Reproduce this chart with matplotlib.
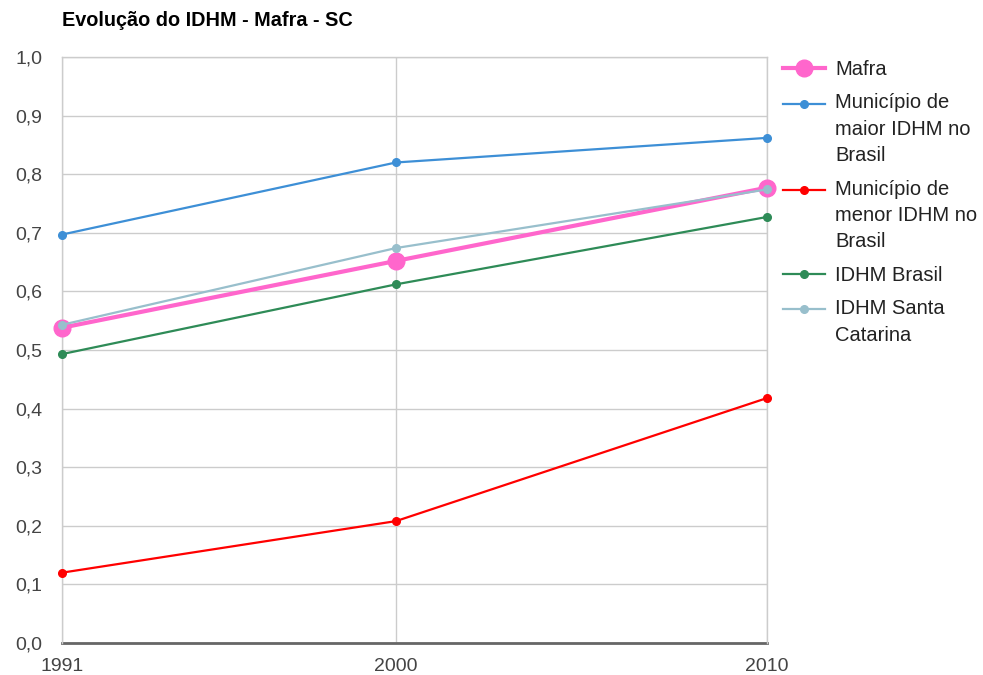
import matplotlib
matplotlib.use("Agg")
import numpy as np
import matplotlib.pyplot as plt
from matplotlib.ticker import FuncFormatter, MultipleLocator
from matplotlib.legend_handler import HandlerLine2D

plt.rcParams['font.family'] = ['Liberation Sans', 'DejaVu Sans']

years = [1991, 2000, 2010]
mafra = [0.538, 0.652, 0.777]
maior = [0.697, 0.820, 0.862]
menor = [0.120, 0.208, 0.418]
brasil = [0.493, 0.612, 0.727]
sc = [0.543, 0.674, 0.774]

labels = ["Mafra", "Município de\nmaior IDHM no\nBrasil", "Município de\nmenor IDHM no\nBrasil",
          "IDHM Brasil", "IDHM Santa\nCatarina"]

LEG_FS = 14.5
LINESP = 1.49
LINE_PT = 18.85  # approx distance between lines of a legend label, in points


class FirstLineHandler(HandlerLine2D):
    def __init__(self, nlines, **kw):
        super().__init__(**kw)
        self.shift = (nlines - 1) / 2 * LINE_PT

    def create_artists(self, legend, orig_handle, xdescent, ydescent, width, height,
                       fontsize, trans):
        arts = super().create_artists(legend, orig_handle, xdescent, ydescent, width,
                                      height, fontsize, trans)
        for a in arts:
            a.set_ydata(np.asarray(a.get_ydata(), dtype=float) + self.shift)
        return arts


fig = plt.figure(figsize=(9.83, 6.75), dpi=100)
ax = fig.add_axes([62/983, 1-643/675, (767-62)/983, (643-57)/675])

kw = dict(clip_on=False)
h1, = ax.plot(years, mafra, color='#ff66cc', lw=3, marker='o', ms=12, zorder=3, **kw)
h2, = ax.plot(years, maior, color='#3d8fd6', lw=1.6, marker='o', ms=5.5, zorder=4, **kw)
h3, = ax.plot(years, menor, color='#ff0000', lw=1.6, marker='o', ms=5.5, zorder=4, **kw)
h4, = ax.plot(years, brasil, color='#2e8b57', lw=1.6, marker='o', ms=5.5, zorder=4, **kw)
h5, = ax.plot(years, sc, color='#98bfcc', lw=1.6, marker='o', ms=5.5, zorder=5, **kw)
handles = [h1, h2, h3, h4, h5]

ax.set_xlim(1991, 2010)
ax.set_ylim(0, 1.0)
ax.set_xticks(years)
ax.yaxis.set_major_locator(MultipleLocator(0.1))
ax.yaxis.set_major_formatter(FuncFormatter(lambda v, p: f"{v:.1f}".replace('.', ',')))
ax.grid(True, color='#cccccc', lw=1)
ax.set_axisbelow(True)
for s in ['top', 'right', 'left']:
    ax.spines[s].set_color('#cccccc')
    ax.spines[s].set_linewidth(1)
ax.spines['bottom'].set_color('#666666')
ax.spines['bottom'].set_linewidth(2)
ax.spines['bottom'].set_zorder(2)
ax.tick_params(length=0, labelsize=14, labelcolor='#444444')
ax.tick_params(axis='x', pad=11)
ax.tick_params(axis='y', pad=14)

fig.text(62/983, 1-21/675, "Evolução do IDHM - Mafra - SC", fontsize=14.3, fontweight='bold',
         color='#000000', va='center', ha='left')

hmap = {h: FirstLineHandler(lab.count('\n') + 1) for h, lab in zip(handles, labels)}
leg = fig.legend(handles, labels, loc='upper left', handler_map=hmap,
                 bbox_to_anchor=(783/983, 1-60/675), frameon=False, fontsize=LEG_FS,
                 handlelength=2.1, handletextpad=0.5, labelspacing=0.72, borderaxespad=0,
                 borderpad=0)
for t in leg.get_texts():
    t.set_color('#222222')
    t.set_linespacing(LINESP)

fig.savefig("out.png", dpi=100)
